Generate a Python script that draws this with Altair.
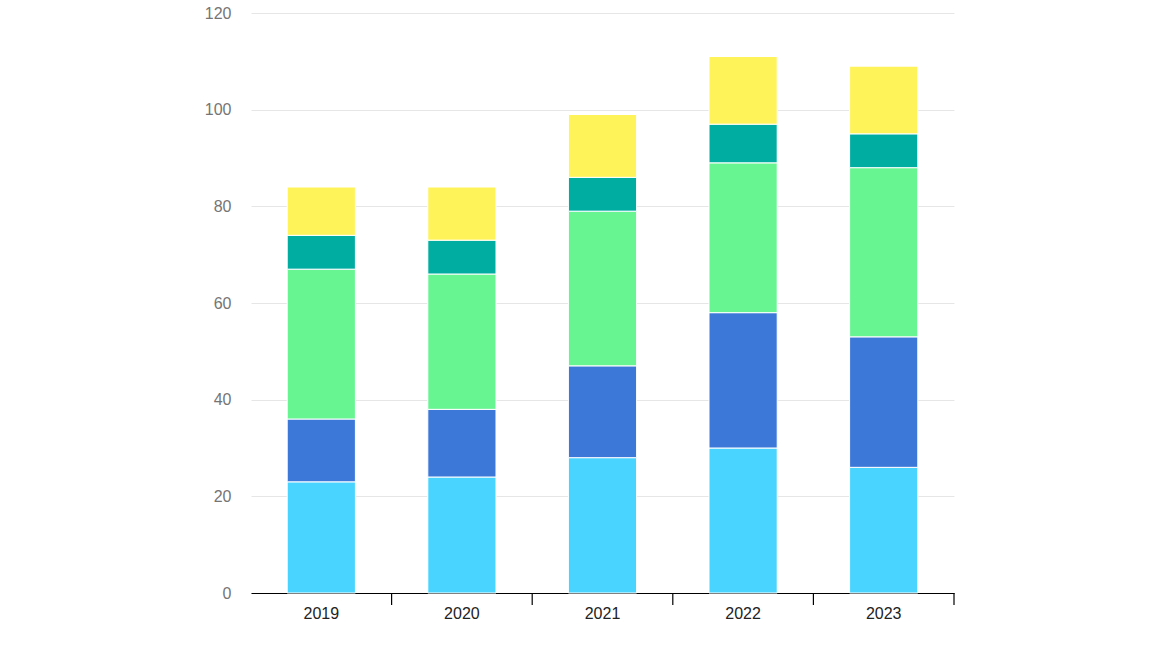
import altair as alt
import pandas as pd

years = ["2019", "2020", "2021", "2022", "2023"]
series = ["A", "B", "C", "D", "E"]
colors = ["#48D4FF", "#3C78D8", "#67F592", "#00ADA1", "#FFF35A"]
values = {
    "A": [23, 24, 28, 30, 26],
    "B": [13, 14, 19, 28, 27],
    "C": [31, 28, 32, 31, 35],
    "D": [7, 7, 7, 8, 7],
    "E": [10, 11, 13, 14, 14],
}

rows = []
for si, s in enumerate(series):
    for yi, y in enumerate(years):
        rows.append({"year": y, "series": s, "order": si, "value": values[s][yi]})
df = pd.DataFrame(rows)

W, H = 703, 580
FONT = "Liberation Sans"
P_INNER = 0.515

xscale = alt.Scale(domain=years, paddingInner=P_INNER, paddingOuter=P_INNER / 2)
xaxis = alt.Axis(title=None, labelAngle=0, ticks=False, domain=True,
                 domainColor="#000000", domainWidth=1.2,
                 labelFont=FONT, labelFontSize=16, labelColor="#222222",
                 labelPadding=12, grid=False)

bars = alt.Chart(df).mark_bar(stroke="white", strokeWidth=1).encode(
    x=alt.X("year:N", scale=xscale, sort=years, axis=xaxis),
    y=alt.Y("value:Q", stack="zero", scale=alt.Scale(domain=[0, 120]),
            axis=alt.Axis(title=None, values=[0, 20, 40, 60, 80, 100, 120],
                          grid=True, gridColor="#e6e6e6", domain=False, ticks=False,
                          tickSize=0, labelPadding=20, labelFont=FONT,
                          labelFontSize=16, labelColor="#757575")),
    color=alt.Color("series:N", scale=alt.Scale(domain=series, range=colors), legend=None),
    order=alt.Order("order:Q"),
)

# category boundary ticks at the right edge of each category slot
tick_df = pd.DataFrame({"year": years})
ticks = alt.Chart(tick_df).mark_rule(color="#000000", strokeWidth=1.2).encode(
    x=alt.X("year:N", sort=years, axis=None,
            scale=alt.Scale(domain=years, paddingInner=0, paddingOuter=0),
            bandPosition=1),
    y=alt.value(H),
    y2=alt.value(H + 12),
)

chart = alt.layer(bars, ticks).resolve_scale(x="independent").properties(
    width=W, height=H,
    padding={"left": 251, "top": 13, "right": 216, "bottom": 65},
    autosize=alt.AutoSizeParams(type="none"),
).configure(background="white").configure_view(stroke=None)

chart.save("out.html", embed_options={"renderer": "svg", "actions": False})
